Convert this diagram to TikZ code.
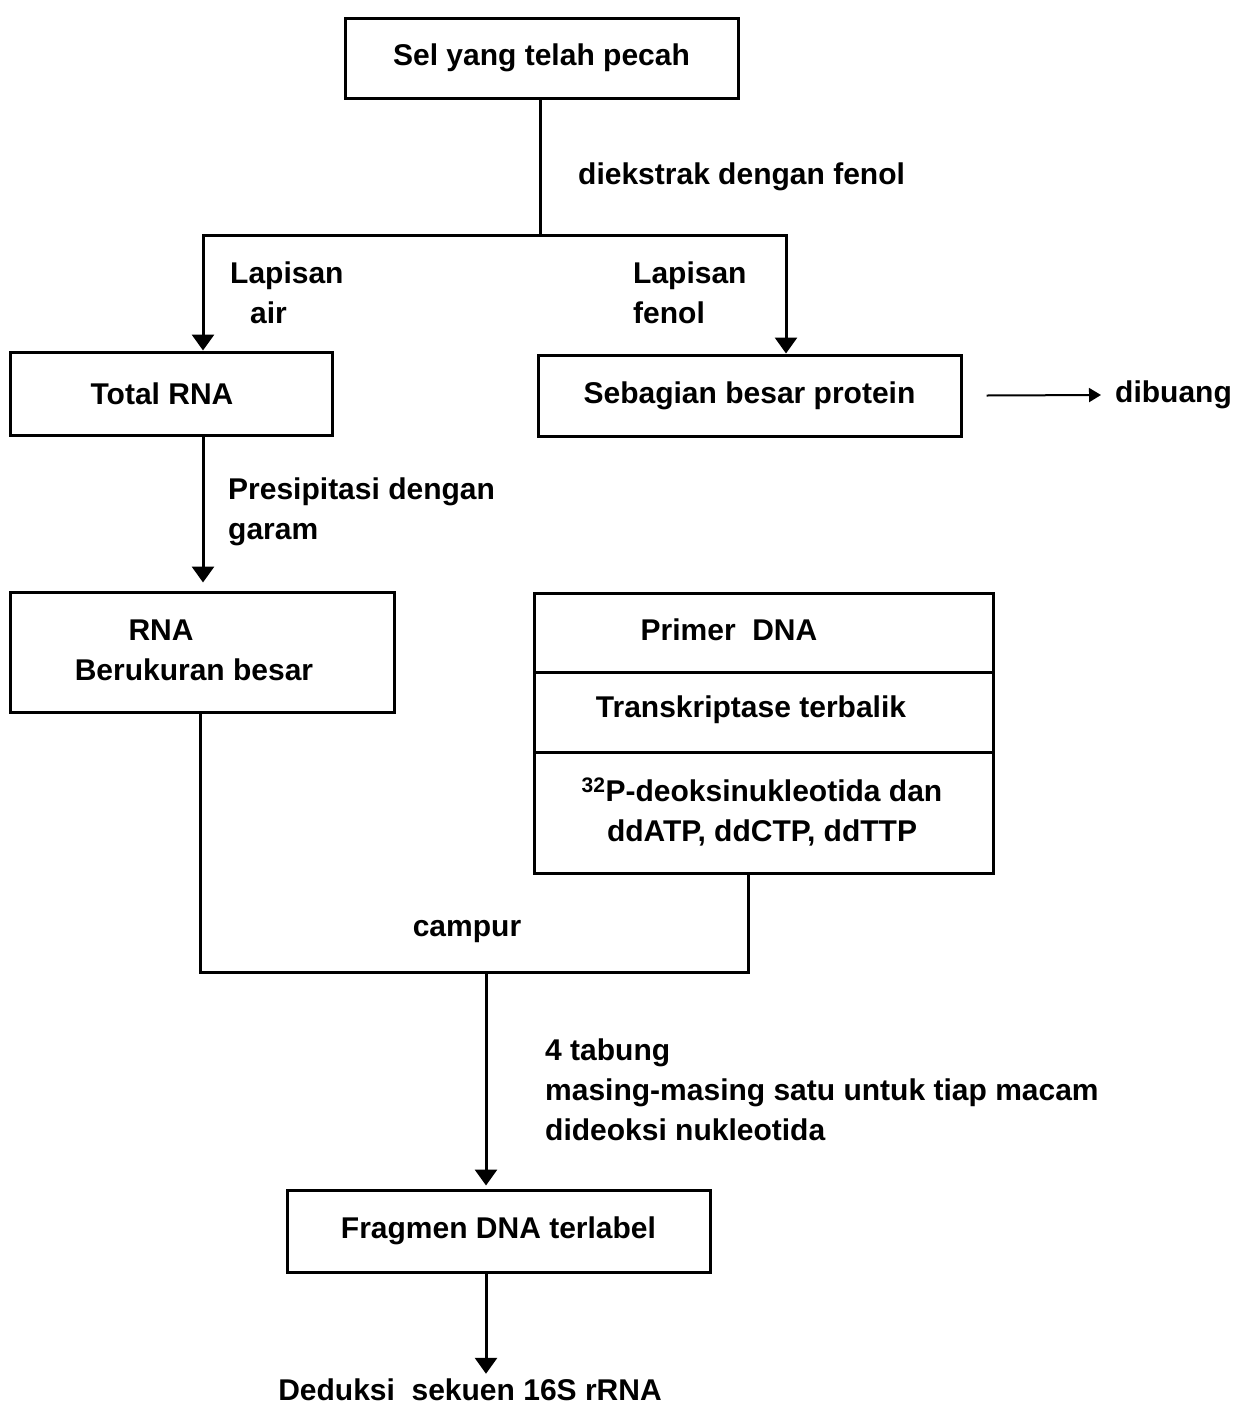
\documentclass[tikz,border=0pt]{standalone}
\usepackage{fontspec}
\setmainfont{Liberation Sans}
\usetikzlibrary{arrows.meta}
\begin{document}
\begin{tikzpicture}[x=1pt,y=-1pt,
  every node/.style={font=\bfseries\fontsize{30}{40}\selectfont},
  box/.style={draw,line width=3pt,inner sep=0pt,align=center},
  lbl/.style={inner sep=0pt,align=left,anchor=west},
  conn/.style={line width=3pt},
  arr/.style={line width=3pt,-{Triangle[width=22pt,length=16pt]}},
  thinarr/.style={line width=2pt,-{Triangle[width=14pt,length=12pt]}}]
\useasboundingbox (0,0) rectangle (1236,1406);
\fill[white] (0,0) rectangle (1236,1406);
% boxes
\node[box,minimum width=393pt,minimum height=80pt] (sel) at (541.5,58) {Sel yang telah pecah};
\node[box,minimum width=322pt,minimum height=83pt] (total) at (171,393.5) {\hspace*{-18pt}Total RNA};
\node[box,minimum width=423pt,minimum height=81pt] (seb) at (749.5,395.5) {Sebagian besar protein};
\node[box,minimum width=384pt,minimum height=120pt] (rna) at (202,652) {};
\node[inner sep=0pt] (rnat1) at (161,630) {RNA};
\node[inner sep=0pt] (rnat2) at (194,670) {Berukuran besar};
\node[box,minimum width=459pt,minimum height=79pt] (primer) at (763.5,632.5) {};
\node[inner sep=0pt] (primert) at (729,630) {Primer\ \ DNA};
\node[box,minimum width=459pt,minimum height=80pt] (trans) at (763.5,712) {};
\node[inner sep=0pt] (transt) at (751,710) {Transkriptase terbalik};
\node[box,minimum width=459pt,minimum height=121pt] (deok) at (763.5,812.5) {};
\node[inner sep=0pt,align=center] (deokt) at (762,812) {\textsuperscript{32}P-deoksinukleotida dan\\ddATP, ddCTP, ddTTP};
\node[box,minimum width=423pt,minimum height=82pt] (frag) at (498.5,1231) {Fragmen DNA terlabel};
\node[inner sep=0pt] (ded) at (470,1390) {Deduksi\ \ sekuen 16S rRNA};
\node[lbl] (dibuang) at (1115,395) {dibuang};
% labels
\node[lbl] (l1) at (578,177) {diekstrak dengan fenol};
\node[lbl] (l2) at (230,293) {Lapisan\\\hspace*{20pt}air};
\node[lbl] (l3) at (633,293) {Lapisan\\fenol};
\node[lbl] (l4) at (228,512) {Presipitasi dengan\\garam};
\node[inner sep=0pt] (l5) at (467,932) {campur};
\node[lbl] (l6) at (545,1090) {4 tabung\\masing-masing satu untuk tiap macam\\dideoksi nukleotida};
% junction coordinates
\coordinate (j1) at (540,235);
\coordinate (jL) at (203,235);
\coordinate (jR) at (786,235);
\coordinate (mL) at (200,972);
\coordinate (mR) at (748,972);
\coordinate (mC) at (486,972);
% connectors
\draw[conn] (sel.south -| j1) -- (j1);
\draw[arr] (j1) -- (jL) -- (jL |- total.north);
\draw[arr] (j1) -- (jR) -- (jR |- seb.north);
\draw[thinarr] ([xshift=24pt]seb.east) -- ([xshift=-14pt]dibuang.west);
\draw[arr] (total.south -| jL) -- ([yshift=8pt]rna.north -| jL);
\draw[conn] (rna.south -| mL) -- (mL) -- (mR) -- (deok.south -| mR);
\draw[arr] (mC) -- ([yshift=3pt]frag.north -| mC);
\draw[arr] (frag.south -| mC) -- ([yshift=5pt]ded.north -| mC);
\end{tikzpicture}
\end{document}
